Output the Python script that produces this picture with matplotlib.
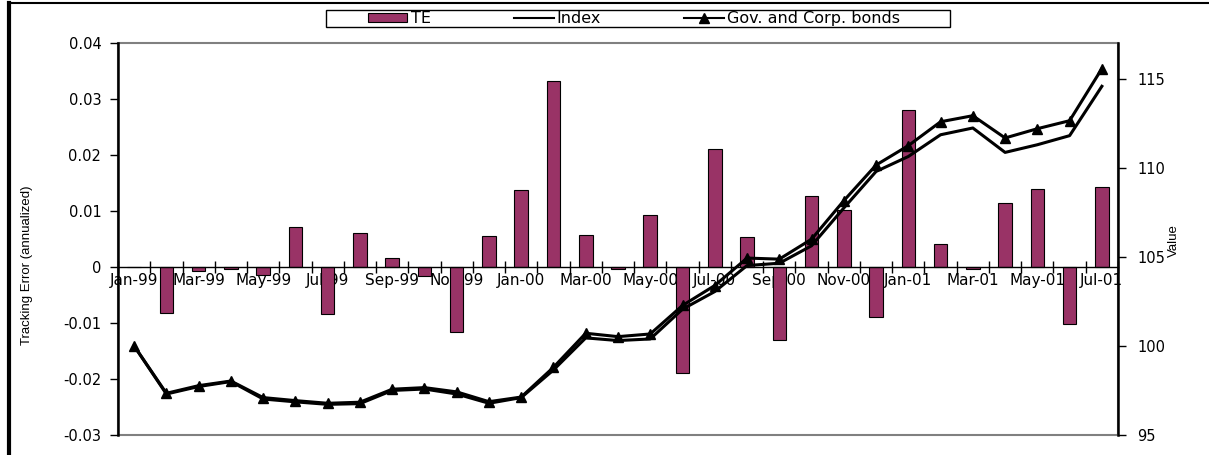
import matplotlib
matplotlib.use("Agg")
import matplotlib.pyplot as plt
import numpy as np
from matplotlib.lines import Line2D
from matplotlib.patches import Rectangle

plt.rcParams['font.family'] = ['DejaVu Sans']

months = ["Jan-99", "Feb-99", "Mar-99", "Apr-99", "May-99", "Jun-99", "Jul-99", "Aug-99",
          "Sep-99", "Oct-99", "Nov-99", "Dec-99", "Jan-00", "Feb-00", "Mar-00", "Apr-00",
          "May-00", "Jun-00", "Jul-00", "Aug-00", "Sep-00", "Oct-00", "Nov-00", "Dec-00",
          "Jan-01", "Feb-01", "Mar-01", "Apr-01", "May-01", "Jun-01", "Jul-01"]

# tracking error (annualized)
te = [0.0, -0.0082, -0.0007, -0.0003, -0.0014, 0.0071, -0.0084, 0.0061,
      0.0016, -0.0016, -0.0116, 0.0056, 0.0137, 0.0333, 0.0057, -0.0003,
      0.0092, -0.0189, 0.0211, 0.0054, -0.0130, 0.0126, 0.0102, -0.0090,
      0.0280, 0.0041, -0.0004, 0.0114, 0.0140, -0.0102, 0.0142]

index_val = [100.0, 97.30, 97.72, 98.00, 97.02, 96.86, 96.72, 96.76,
             97.50, 97.58, 97.30, 96.78, 97.10, 98.65, 100.45, 100.30,
             100.39, 102.06, 103.05, 104.51, 104.64, 105.62, 107.74, 109.79,
             110.63, 111.85, 112.23, 110.86, 111.29, 111.80, 114.57]

bonds_val = [100.0, 97.34, 97.77, 98.03, 97.10, 96.93, 96.78, 96.84,
             97.57, 97.66, 97.42, 96.87, 97.13, 98.80, 100.71, 100.52,
             100.67, 102.27, 103.39, 104.93, 104.87, 105.99, 108.15, 110.15,
             111.24, 112.58, 112.92, 111.67, 112.19, 112.64, 115.56]

x = np.arange(len(months))

title_font = dict(family='Liberation Sans', fontsize=9.5)

fig = plt.figure(figsize=(12.09, 4.55), dpi=100)
ax = fig.add_axes([118 / 1209, 1 - 435 / 455, 1000 / 1209, 392 / 455])

ax.bar(x, te, width=0.42, color="#993366", edgecolor="black", linewidth=0.8, zorder=2)

ax.set_xlim(-0.5, len(months) - 0.5)
ax.set_ylim(-0.03, 0.04)
ax.set_yticks(np.arange(-0.03, 0.0401, 0.01))
ax.set_yticklabels(["-0.03", "-0.02", "-0.01", "0", "0.01", "0.02", "0.03", "0.04"], fontsize=10.5)
ax.tick_params(axis="y", direction="out", length=6, width=1, pad=6)
ax.set_ylabel("Tracking Error (annualized)", **title_font)
ax.yaxis.set_label_coords(-0.085, 0.434)

# category axis sits on the zero line
ax.spines['bottom'].set_position(('data', 0))
ax.spines['bottom'].set_linewidth(1)
ax.spines['left'].set_linewidth(1.8)
ax.spines['top'].set_visible(False)
ax.spines['right'].set_visible(False)
ax.set_xticks(np.arange(-0.5, len(months), 1.0))
ax.set_xticklabels([])
ax.tick_params(axis="x", which="major", direction="inout", length=9, width=1)
ax.set_xticks(x[::2], minor=True)
ax.set_xticklabels(months[::2], minor=True, fontsize=11)
ax.tick_params(axis="x", which="minor", length=0, pad=4)

# gray plot-area frame
ax.add_patch(Rectangle((0, 0), 1, 1, transform=ax.transAxes, fill=False,
                       edgecolor="#808080", linewidth=1.5, zorder=0, clip_on=False))

ax2 = ax.twinx()
ax2.plot(x, index_val, color="black", linewidth=2.2, zorder=3)
ax2.plot(x, bonds_val, color="black", linewidth=2.2, marker="^", markersize=7.5, zorder=4)
ax2.set_ylim(95, 117)
ax2.set_yticks([95, 100, 105, 110, 115])
ax2.set_yticklabels(["95", "100", "105", "110", "115"], fontsize=10.5)
ax2.tick_params(axis="y", direction="out", length=6, width=1, pad=8)
ax2.spines['right'].set_linewidth(1.8)
ax2.spines['top'].set_visible(False)
ax2.spines['left'].set_visible(False)
ax2.spines['bottom'].set_visible(False)
ax2.set_ylabel("Value", **title_font)
ax2.yaxis.set_label_coords(1.05, 0.495)

handles = [Rectangle((0, 0), 1, 1, facecolor="#993366", edgecolor="black", linewidth=0.8),
           Line2D([], [], color="black", linewidth=1.5),
           Line2D([], [], color="black", linewidth=1.5, marker="^", markersize=7)]
fig.legend(handles, ["TE", "Index", "Gov. and Corp. bonds"], loc="center",
           bbox_to_anchor=(634 / 1209, 1 - 18.5 / 455), ncol=3, fontsize=11.5,
           frameon=False, columnspacing=5.2, handlelength=2.5, handleheight=0.5,
           handletextpad=0.2, borderpad=0.2)
fig.add_artist(Rectangle((326 / 1209, 1 - 27 / 455), 624 / 1209, 17 / 455,
                         transform=fig.transFigure, fill=False, edgecolor="black", linewidth=1))

# outer border of the chart
fig.add_artist(Line2D([9 / 1209, 1], [1 - 3 / 455, 1 - 3 / 455], color="black", linewidth=1.5))
fig.add_artist(Line2D([9 / 1209, 9 / 1209], [0, 1 - 3 / 455], color="black", linewidth=3))

fig.savefig("out.png", dpi=100)
